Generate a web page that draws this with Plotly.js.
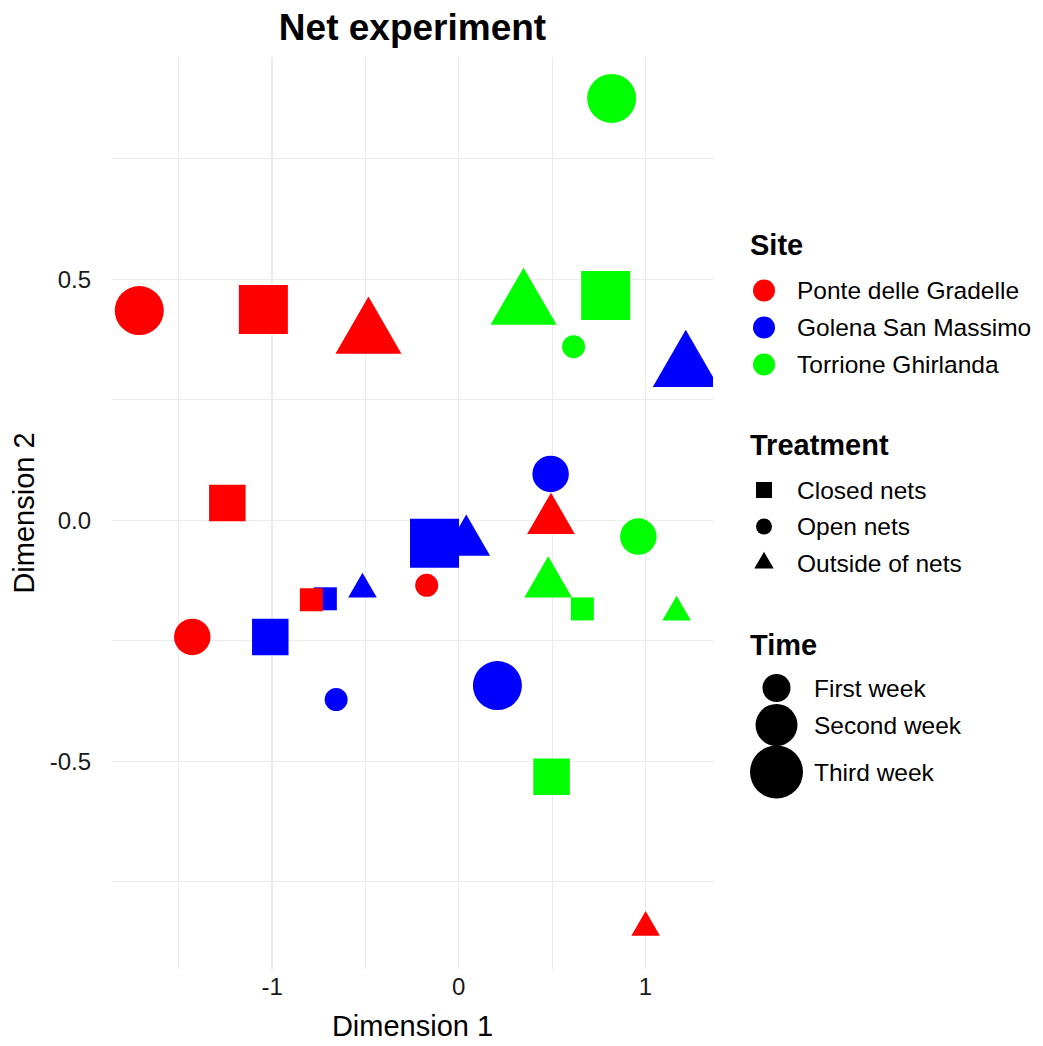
<!DOCTYPE html>
<html>
<head>
<meta charset="utf-8">
<script src="https://cdn.plot.ly/plotly-3.0.1.min.js"></script>
<style>html,body{margin:0;padding:0;background:#fff;}#chart{width:1043px;height:1046px;}</style>
</head>
<body>
<div id="chart"></div>
<script>
// ---------- data ----------
const siteNames = ["Ponte delle Gradelle", "Golena San Massimo", "Torrione Ghirlanda"];
const treatmentNames = ["Closed nets", "Open nets", "Outside of nets"];
const timeNames = ["First week", "Second week", "Third week"];

// Ponte delle Gradelle
const ponteDim1 = [-1.712, -1.047, -0.484, -1.240, 0.494, -0.172, -0.790, -1.428, 1.001];
const ponteDim2 = [0.435, 0.437, 0.385, 0.036, 0.000, -0.135, -0.165, -0.242, -0.845];
const ponteTreatment = ["Open nets", "Closed nets", "Outside of nets", "Closed nets", "Outside of nets", "Open nets", "Closed nets", "Open nets", "Outside of nets"];
const ponteTime = ["Third week", "Third week", "Third week", "Second week", "Second week", "First week", "First week", "Second week", "First week"];

// Golena San Massimo
const golenaDim1 = [1.216, 0.492, -0.130, 0.040, -0.516, -0.715, -1.010, 0.207, -0.657];
const golenaDim2 = [0.316, 0.096, -0.048, -0.045, -0.143, -0.163, -0.242, -0.343, -0.372];
const golenaTreatment = ["Outside of nets", "Open nets", "Closed nets", "Outside of nets", "Outside of nets", "Closed nets", "Closed nets", "Open nets", "Open nets"];
const golenaTime = ["Third week", "Second week", "Third week", "Second week", "First week", "First week", "Second week", "Third week", "First week"];

// Torrione Ghirlanda
const torrioneDim1 = [0.819, 0.347, 0.787, 0.615, 0.962, 0.479, 0.662, 1.167, 0.497];
const torrioneDim2 = [0.875, 0.445, 0.466, 0.360, -0.034, -0.132, -0.184, -0.191, -0.532];
const torrioneTreatment = ["Open nets", "Outside of nets", "Closed nets", "Open nets", "Open nets", "Outside of nets", "Closed nets", "Outside of nets", "Closed nets"];
const torrioneTime = ["Third week", "Third week", "Third week", "First week", "Second week", "Second week", "First week", "First week", "Second week"];

const xTickVals = [-1, 0, 1];
const xTickText = ["-1", "0", "1"];
const xMinorVals = [-1.5, -0.5, 0.5];
const yTickVals = [-0.5, 0, 0.5];
const yTickText = ["-0.5", "0.0", "0.5"];
const yMinorVals = [-0.75, -0.25, 0.25, 0.75];

// ---------- styles ----------
const FONT = "Liberation Sans, Arial, sans-serif";
const siteColors = {"Ponte delle Gradelle": "#FF0000", "Golena San Massimo": "#0000FF", "Torrione Ghirlanda": "#00FF00"};
const treatmentSymbols = {"Closed nets": "square", "Open nets": "circle", "Outside of nets": "triangle-up"};
const symbolScale = {"square": 1.0, "circle": 1.0, "triangle-up": 0.92};
const timeSizes = {"First week": 23, "Second week": 36.5, "Third week": 49};
// radius (px) of the equilateral (R-style) triangle drawn for "Outside of nets"
const triRadius = {"First week": 10.6, "Second week": 17.7, "Third week": 24.5};
const TRC0 = Math.sqrt(4 * Math.PI / (3 * Math.sqrt(3)));
const TRC1 = TRC0 * Math.sqrt(3) / 2;
const TRC2 = TRC0 / 2;

function triPath(r) {
  const f = v => v.toFixed(2);
  return "M" + f(-r * TRC1) + "," + f(-r * TRC2) + " L" + f(r * TRC1) + "," + f(-r * TRC2) + " L0," + f(r * TRC0) + " Z";
}

const shapes = [];
function siteTrace(name, xs, ys, treats, times) {
  const symbols = treats.map(t => treatmentSymbols[t]);
  // equilateral triangles anchored at the data values (overlay, same colour)
  treats.forEach((t, i) => {
    if (treatmentSymbols[t] === "triangle-up") {
      shapes.push({
        type: "path", xref: "x", yref: "y", xsizemode: "pixel", ysizemode: "pixel",
        xanchor: xs[i], yanchor: ys[i], path: triPath(triRadius[times[i]]),
        fillcolor: siteColors[name], line: {width: 0}, layer: "above"
      });
    }
  });
  return {
    type: "scatter", mode: "markers", name: name, x: xs, y: ys,
    xaxis: "x", yaxis: "y", cliponaxis: false, showlegend: false, hoverinfo: "x+y+name",
    marker: {
      color: siteColors[name],
      symbol: symbols,
      size: times.map((t, i) => timeSizes[t] * symbolScale[symbols[i]]),
      line: {width: 0}, opacity: 1
    }
  };
}

const traces = [
  siteTrace(siteNames[1], golenaDim1, golenaDim2, golenaTreatment, golenaTime),
  siteTrace(siteNames[2], torrioneDim1, torrioneDim2, torrioneTreatment, torrioneTime),
  siteTrace(siteNames[0], ponteDim1, ponteDim2, ponteTreatment, ponteTime)
];

// ---------- custom legend (drawn on a hidden pixel-space axis pair) ----------
const L = {
  titleX: 748, keyX: 764, textX: 795, timeKeyX: 776.5, timeTextX: 812,
  siteTitleY: 245, siteY0: 290.5, siteStep: 37,
  treatTitleY: 445, treatY0: 490, treatStep: 36.5,
  timeTitleY: 645, timeY: [688, 725, 772], timeKeySizes: [28, 42, 53],
  siteKeySize: 22, treatKeySize: 16, treatTriRadius: 7.2
};
const siteKeyY = siteNames.map((_, i) => L.siteY0 + i * L.siteStep);
const treatKeyY = treatmentNames.map((_, i) => L.treatY0 + i * L.treatStep);

traces.push({
  type: "scatter", mode: "markers", xaxis: "x2", yaxis: "y2", showlegend: false, hoverinfo: "skip", cliponaxis: false,
  x: siteNames.map(() => L.keyX), y: siteKeyY,
  marker: {color: siteNames.map(s => siteColors[s]), size: L.siteKeySize, symbol: "circle", line: {width: 0}, opacity: 1}
});
traces.push({
  type: "scatter", mode: "markers", xaxis: "x2", yaxis: "y2", showlegend: false, hoverinfo: "skip", cliponaxis: false,
  x: treatmentNames.map(() => L.keyX), y: treatKeyY,
  marker: {color: "#000000", symbol: treatmentNames.map(t => treatmentSymbols[t]),
           size: treatmentNames.map(t => L.treatKeySize * symbolScale[treatmentSymbols[t]]), line: {width: 0}, opacity: 1}
});
treatmentNames.forEach((t, i) => {
  if (treatmentSymbols[t] === "triangle-up") {
    shapes.push({
      type: "path", xref: "x2", yref: "y2", xsizemode: "pixel", ysizemode: "pixel",
      xanchor: L.keyX, yanchor: treatKeyY[i], path: triPath(L.treatTriRadius),
      fillcolor: "#000000", line: {width: 0}, layer: "above"
    });
  }
});
traces.push({
  type: "scatter", mode: "markers", xaxis: "x2", yaxis: "y2", showlegend: false, hoverinfo: "skip", cliponaxis: false,
  x: timeNames.map(() => L.timeKeyX), y: L.timeY,
  marker: {color: "#000000", symbol: "circle", size: L.timeKeySizes, line: {width: 0}, opacity: 1}
});

const annotations = [];
function legendTitle(text, y) {
  annotations.push({xref: "x2", yref: "y2", x: L.titleX, y: y, text: text, showarrow: false,
    xanchor: "left", yanchor: "middle", font: {family: FONT, size: 29, color: "#000", weight: "bold"}});
}
function legendLabel(text, x, y) {
  annotations.push({xref: "x2", yref: "y2", x: x, y: y, text: text, showarrow: false,
    xanchor: "left", yanchor: "middle", font: {family: FONT, size: 24.5, color: "#000"}});
}
legendTitle("Site", L.siteTitleY);
siteNames.forEach((s, i) => legendLabel(s, L.textX, siteKeyY[i]));
legendTitle("Treatment", L.treatTitleY);
treatmentNames.forEach((t, i) => legendLabel(t, L.textX, treatKeyY[i]));
legendTitle("Time", L.timeTitleY);
timeNames.forEach((t, i) => legendLabel(t, L.timeTextX, L.timeY[i]));

// ---------- layout ----------
const W = 1043, H = 1046;
const mL = 112, mT = 57, mB = 77, mR = 0;
const plotRight = 713;
const xDomEnd = (plotRight - mL) / (W - mL - mR);

const layout = {
  width: W, height: H,
  margin: {l: mL, r: mR, t: mT, b: mB, pad: 0},
  paper_bgcolor: "#ffffff", plot_bgcolor: "#ffffff",
  showlegend: false,
  font: {family: FONT, color: "#000"},
  title: {
    text: "Net experiment", xref: "paper", x: xDomEnd / 2, xanchor: "center",
    yref: "container", y: 1 - 27 / H, yanchor: "middle",
    font: {family: FONT, size: 37, color: "#000", weight: "bold"}
  },
  xaxis: {
    domain: [0, xDomEnd], range: [-1.858, 1.362], autorange: false,
    tickmode: "array", tickvals: xTickVals, ticktext: xTickText,
    showgrid: true, gridcolor: "#EBEBEB", gridwidth: 1.4,
    minor: {tickmode: "array", tickvals: xMinorVals, showgrid: true, gridcolor: "#EBEBEB", gridwidth: 1},
    zeroline: false, showline: false, ticks: "",
    tickfont: {family: FONT, size: 24, color: "#1a1a1a"}, ticklabelstandoff: 1,
    title: {text: "Dimension 1", font: {family: FONT, size: 29, color: "#000"}, standoff: 16},
    automargin: false, fixedrange: true
  },
  yaxis: {
    domain: [0, 1], range: [-0.931, 0.961], autorange: false,
    tickmode: "array", tickvals: yTickVals, ticktext: yTickText,
    showgrid: true, gridcolor: "#EBEBEB", gridwidth: 1.4,
    minor: {tickmode: "array", tickvals: yMinorVals, showgrid: true, gridcolor: "#EBEBEB", gridwidth: 1},
    zeroline: false, showline: false, ticks: "",
    tickfont: {family: FONT, size: 24, color: "#1a1a1a"}, ticklabelstandoff: 20,
    title: {text: "Dimension 2", font: {family: FONT, size: 29, color: "#000"}, standoff: 6},
    automargin: false, fixedrange: true
  },
  xaxis2: {domain: [xDomEnd, 1], range: [plotRight, W], visible: false, fixedrange: true},
  yaxis2: {domain: [0, 1], range: [H - mB, mT], anchor: "x2", visible: false, fixedrange: true},
  annotations: annotations,
  shapes: shapes
};

Plotly.newPlot("chart", traces, layout, {displayModeBar: false, staticPlot: true});
</script>
</body>
</html>
